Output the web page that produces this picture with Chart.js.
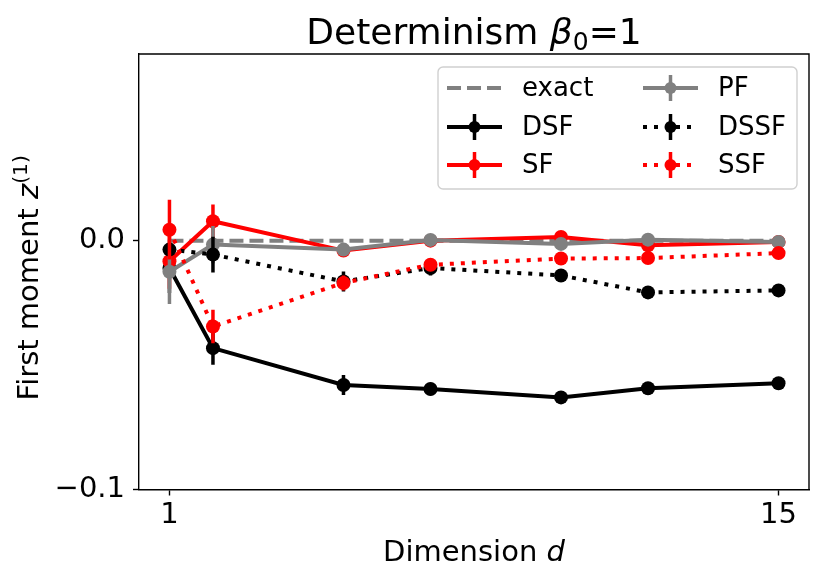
<!DOCTYPE html>
<html>
<head>
<meta charset="utf-8">
<script src="https://cdn.jsdelivr.net/npm/chart.js@4.4.1/dist/chart.umd.min.js"></script>
<style>
  body { margin: 0; background: #fff; }
  #wrap { width: 831px; height: 584px; }
</style>
</head>
<body>
<div id="wrap"><canvas id="momentChart" width="831" height="584"></canvas></div>
<script>
// dimensions d
const dims = [1, 2, 5, 7, 10, 12, 15];
const exactX = [1, 15];
const exactY = [0, 0];

// first moment estimates and their error bars
const dsf = [-0.011, -0.0432, -0.058, -0.0596, -0.063, -0.0593, -0.0573];
const dsfErr = [0.010, 0.0067, 0.004, 0.0025, 0.002, 0.002, 0.002];
const sf = [-0.0083, 0.0078, -0.004, 0.0, 0.0015, -0.0019, -0.0005];
const sfErr = [0.011, 0.0067, 0.002, 0.002, 0.002, 0.002, 0.002];
const pf = [-0.0125, -0.0016, -0.0036, 0.0003, -0.0013, 0.0004, -0.0005];
const pfErr = [0.013, 0.0075, 0.002, 0.002, 0.002, 0.002, 0.002];
const dssf = [-0.0036, -0.0056, -0.0164, -0.011, -0.014, -0.0208, -0.020];
const dssfErr = [0.002, 0.0072, 0.004, 0.003, 0.002, 0.002, 0.002];
const ssf = [0.0044, -0.0345, -0.017, -0.0097, -0.0072, -0.007, -0.005];
const ssfErr = [0.012, 0.0067, 0.003, 0.002, 0.002, 0.002, 0.002];

// ticks
const xTicks = [1, 15];
const xTickLabels = ['1', '15'];
const yTicks = [-0.1, 0.0];
const yTickLabels = ['\u22120.1', '0.0'];

const FONT = 'DejaVu Sans';
const DOT = [4, 7];

function pts(xs, ys) {
  return xs.map((x, i) => ({ x: x, y: ys[i] }));
}

function series(label, ys, errs, color, dash, order) {
  return {
    label: label,
    data: pts(dims, ys),
    errors: errs,
    borderColor: color,
    backgroundColor: color,
    pointBackgroundColor: color,
    pointBorderColor: color,
    pointBorderWidth: 0,
    pointRadius: 7,
    pointHoverRadius: 7,
    borderWidth: 4,
    borderDash: dash,
    borderCapStyle: 'butt',
    tension: 0,
    order: order
  };
}

const datasets = [
  {
    label: 'exact',
    data: pts(exactX, exactY),
    borderColor: 'gray',
    borderWidth: 4,
    borderDash: [14, 6],
    borderCapStyle: 'butt',
    pointRadius: 0,
    order: 6
  },
  series('DSF', dsf, dsfErr, 'black', [], 5),
  series('SF', sf, sfErr, 'red', [], 4),
  series('PF', pf, pfErr, 'gray', [], 3),
  series('DSSF', dssf, dssfErr, 'black', DOT, 2),
  series('SSF', ssf, ssfErr, 'red', DOT, 1)
];

// vertical error bars, drawn just under each dataset's own line
const errorBars = {
  id: 'errorBars',
  beforeDatasetDraw(chart, args) {
    const ds = chart.data.datasets[args.index];
    if (!ds.errors) return;
    const ctx = chart.ctx;
    const xs = chart.scales.x, ys = chart.scales.y;
    const a = chart.chartArea;
    ctx.save();
    ctx.beginPath();
    ctx.rect(a.left, a.top, a.right - a.left, a.bottom - a.top);
    ctx.clip();
    ctx.strokeStyle = ds.borderColor;
    ctx.lineWidth = 3.5;
    ds.data.forEach((p, i) => {
      const px = xs.getPixelForValue(p.x);
      ctx.beginPath();
      ctx.moveTo(px, ys.getPixelForValue(p.y - ds.errors[i]));
      ctx.lineTo(px, ys.getPixelForValue(p.y + ds.errors[i]));
      ctx.stroke();
    });
    ctx.restore();
  }
};

function drawRich(ctx, parts, x, y) {
  let w = 0;
  parts.forEach(p => { ctx.font = p.f; w += ctx.measureText(p.t).width; });
  let cx = x - w / 2;
  ctx.textAlign = 'left';
  ctx.textBaseline = 'alphabetic';
  parts.forEach(p => {
    ctx.font = p.f;
    ctx.fillText(p.t, cx, y + (p.dy || 0));
    cx += ctx.measureText(p.t).width;
  });
}

const decorations = {
  id: 'decorations',
  afterDraw(chart) {
    const ctx = chart.ctx;
    const a = chart.chartArea;
    ctx.save();
    // top and right spines
    ctx.strokeStyle = 'black';
    ctx.lineWidth = 1.4;
    ctx.beginPath();
    ctx.moveTo(a.left, a.top);
    ctx.lineTo(a.right, a.top);
    ctx.lineTo(a.right, a.bottom);
    ctx.stroke();

    ctx.fillStyle = 'black';
    const midX = (a.left + a.right) / 2;
    drawRich(ctx, [
      { t: 'Determinism ', f: '36px ' + FONT },
      { t: '\u03b2', f: 'italic 36px ' + FONT },
      { t: '0', f: '25px ' + FONT, dy: 6 },
      { t: '=1', f: '36px ' + FONT }
    ], midX, 44);

    drawRich(ctx, [
      { t: 'Dimension ', f: '29px ' + FONT },
      { t: 'd', f: 'italic 29px ' + FONT }
    ], midX, 561);

    ctx.save();
    ctx.translate(38, (a.top + a.bottom) / 2 + 6);
    ctx.rotate(-Math.PI / 2);
    drawRich(ctx, [
      { t: 'First moment ', f: '29px ' + FONT },
      { t: 'z', f: 'italic 29px ' + FONT },
      { t: '(1)', f: '20.3px ' + FONT, dy: -11 }
    ], 0, 0);
    ctx.restore();

    // legend
    const bx = 438, by = 67, bw = 359, bh = 122;
    ctx.beginPath();
    ctx.roundRect(bx, by, bw, bh, 5);
    ctx.fillStyle = 'rgba(255,255,255,0.8)';
    ctx.fill();
    ctx.strokeStyle = '#d0d0d0';
    ctx.lineWidth = 1.4;
    ctx.stroke();

    const cols = [[447, 522], [643, 718]];
    const rows = [88, 127, 165];
    const ds = chart.data.datasets;
    ds.forEach((d, i) => {
      const col = cols[Math.floor(i / 3)];
      const ry = rows[i % 3];
      const x0 = col[0], x1 = col[0] + 55, xm = (x0 + x1) / 2;
      ctx.strokeStyle = d.borderColor;
      ctx.lineWidth = 4;
      ctx.setLineDash(d.borderDash || []);
      ctx.lineDashOffset = 0;
      ctx.beginPath();
      ctx.moveTo(x0, ry);
      ctx.lineTo(x1, ry);
      ctx.stroke();
      ctx.setLineDash([]);
      if (d.errors) {
        ctx.lineWidth = 3.5;
        ctx.beginPath();
        ctx.moveTo(xm, ry - 13);
        ctx.lineTo(xm, ry + 13);
        ctx.stroke();
        ctx.fillStyle = d.borderColor;
        ctx.beginPath();
        ctx.arc(xm, ry, 6, 0, Math.PI * 2);
        ctx.fill();
      }
      ctx.fillStyle = 'black';
      ctx.font = '26px ' + FONT;
      ctx.textAlign = 'left';
      ctx.textBaseline = 'middle';
      ctx.fillText(d.label, col[1], ry + 1);
    });
    ctx.restore();
  }
};

const tickGrid = {
  display: true,
  drawOnChartArea: false,
  drawTicks: true,
  tickLength: 6,
  tickWidth: 1.4,
  tickColor: 'black'
};

new Chart(document.getElementById('momentChart').getContext('2d'), {
  type: 'line',
  data: { datasets: datasets },
  options: {
    responsive: false,
    animation: false,
    devicePixelRatio: 1,
    layout: { padding: { top: 54, right: 22, left: 0, bottom: 0 } },
    plugins: {
      legend: { display: false },
      tooltip: { enabled: false },
      title: { display: false }
    },
    scales: {
      x: {
        type: 'linear',
        min: 0.3,
        max: 15.7,
        afterBuildTicks: s => { s.ticks = xTicks.map(v => ({ value: v })); },
        afterFit: s => { s.height = 94.5; },
        ticks: {
          callback: v => xTickLabels[xTicks.indexOf(v)],
          color: 'black',
          font: { family: FONT, size: 29 },
          padding: 3,
          maxRotation: 0,
          autoSkip: false
        },
        grid: tickGrid,
        border: { display: true, color: 'black', width: 1.4 }
      },
      y: {
        type: 'linear',
        min: -0.1,
        max: 0.075,
        afterBuildTicks: s => { s.ticks = yTicks.map(v => ({ value: v })); },
        afterFit: s => { s.width = 139; },
        ticks: {
          callback: v => yTickLabels[yTicks.indexOf(v)],
          color: 'black',
          font: { family: FONT, size: 29 },
          padding: 8,
          autoSkip: false
        },
        grid: tickGrid,
        border: { display: true, color: 'black', width: 1.4 }
      }
    }
  },
  plugins: [errorBars, decorations]
});
</script>
</body>
</html>
